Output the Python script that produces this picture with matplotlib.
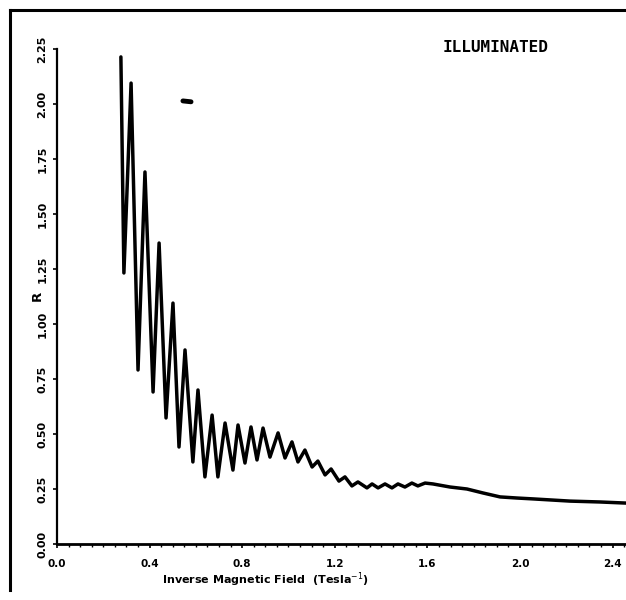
import matplotlib
matplotlib.use("Agg")
import matplotlib.pyplot as plt
from matplotlib.lines import Line2D
import numpy as np

# Data (inverse field in 1/Tesla, R)
inv_field = [0.276, 0.289, 0.320, 0.350, 0.380, 0.415, 0.441, 0.471, 0.501, 0.527,
             0.553, 0.587, 0.609, 0.639, 0.670, 0.695, 0.726, 0.760, 0.782, 0.812,
             0.838, 0.864, 0.890, 0.920, 0.955, 0.985, 1.015, 1.041, 1.071, 1.102,
             1.127, 1.158, 1.184, 1.218, 1.244, 1.274, 1.300, 1.339, 1.361, 1.387,
             1.417, 1.447, 1.473, 1.503, 1.533, 1.559, 1.590, 1.624, 1.698, 1.771,
             1.840, 1.914, 1.987, 2.056, 2.216, 2.346, 2.458]
resistance = [2.214, 1.232, 2.095, 0.791, 1.691, 0.691, 1.368, 0.573, 1.095, 0.441,
              0.882, 0.373, 0.700, 0.305, 0.586, 0.305, 0.550, 0.336, 0.541, 0.368,
              0.532, 0.382, 0.527, 0.395, 0.505, 0.391, 0.464, 0.373, 0.427, 0.350,
              0.377, 0.314, 0.341, 0.286, 0.305, 0.264, 0.282, 0.255, 0.273, 0.255,
              0.273, 0.255, 0.273, 0.259, 0.277, 0.264, 0.277, 0.273, 0.259, 0.250,
              0.232, 0.214, 0.209, 0.205, 0.195, 0.191, 0.186]

# stray short mark
mark_x = [0.544, 0.579]
mark_y = [2.014, 2.010]

y_ticks = [0.00, 0.25, 0.50, 0.75, 1.00, 1.25, 1.50, 1.75, 2.00, 2.25]
y_labels = ["0.00", "0.25", "0.50", "0.75", "1.00", "1.25", "1.50", "1.75", "2.00", "2.25"]
x_ticks = [0.0, 0.4, 0.8, 1.2, 1.6, 2.0, 2.4]
x_labels = ["0.0", "0.4", "0.8", "1.2", "1.6", "2.0", "2.4"]

W, H = 626, 600
fig = plt.figure(figsize=(W / 100, H / 100), dpi=100)
fig.patch.set_facecolor("white")

ax = fig.add_axes([57 / W, 1 - 544 / H, 1 - 57 / W, (544 - 49) / H])
ax.plot(inv_field, resistance, color="black", lw=2.5,
        solid_joinstyle="round", solid_capstyle="round")
ax.plot(mark_x, mark_y, color="black", lw=3.5, solid_capstyle="round")

ax.set_xlim(0, 2.458)
ax.set_ylim(0, 2.25)
for s in ["top", "right"]:
    ax.spines[s].set_visible(False)
ax.spines["left"].set_linewidth(1.6)
ax.spines["bottom"].set_linewidth(2.0)

ax.set_xticks(x_ticks)
ax.set_xticklabels(x_labels, fontsize=7.5, fontweight="bold", family="DejaVu Sans")
ax.set_xticks(np.arange(0, 2.46, 0.05), minor=True)
ax.set_yticks(y_ticks)
ax.set_yticklabels(y_labels, fontsize=8, fontweight="bold", family="DejaVu Sans",
                   rotation=90, va="center")
ax.tick_params(axis="both", which="major", direction="out", length=3, width=1.2, pad=8)
ax.tick_params(axis="x", which="minor", direction="out", length=2.5, width=1.0)
ax.tick_params(axis="y", which="major", pad=4)

fig.text(37 / W, 1 - 296 / H, "R", rotation=90, fontsize=9.5, fontweight="bold",
         ha="center", va="center")
fig.text(265 / W, 1 - 580 / H, r"Inverse Magnetic Field  (Tesla$^{-1}$)",
         fontsize=8, fontweight="bold", ha="center", va="center")
fig.text(496 / W, 1 - 47 / H, "ILLUMINATED", fontsize=11.5, fontweight="bold",
         family="DejaVu Sans Mono", ha="center", va="center")

# outer frame of the scanned page
fig.add_artist(Line2D([10 / W, 10 / W], [1 - 590 / H, 1 - 10 / H],
                      transform=fig.transFigure, color="black", lw=2.2))
fig.add_artist(Line2D([10 / W, 1.0], [1 - 10 / H, 1 - 10 / H],
                      transform=fig.transFigure, color="black", lw=2.2))

fig.savefig("out.png", dpi=100)
